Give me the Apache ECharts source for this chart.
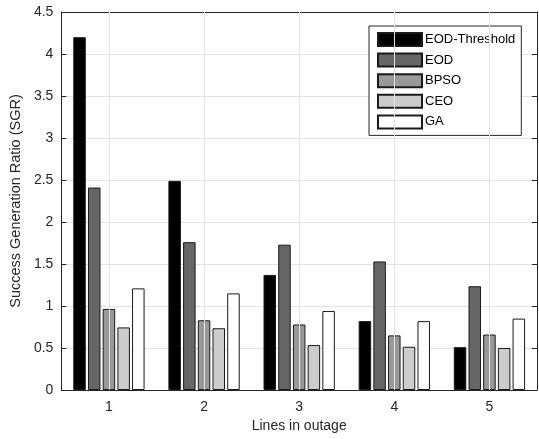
<!DOCTYPE html>
<html>
<head>
<meta charset="utf-8">
<script src="https://cdn.jsdelivr.net/npm/echarts@6/dist/echarts.min.js"></script>
<style>html,body{margin:0;padding:0;background:#fff}#c{width:539px;height:439px}</style>
</head>
<body>
<div id="c"></div>
<script>
var categories = ['1', '2', '3', '4', '5'];
var seriesNames = ['EOD-Threshold', 'EOD', 'BPSO', 'CEO', 'GA'];
var eodThreshold = [4.20, 2.49, 1.37, 0.82, 0.51];
var eod = [2.41, 1.76, 1.73, 1.53, 1.235];
var bpso = [0.965, 0.83, 0.78, 0.65, 0.66];
var ceo = [0.745, 0.735, 0.535, 0.515, 0.50];
var ga = [1.21, 1.15, 0.94, 0.82, 0.85];
var yTicks = [0, 0.5, 1, 1.5, 2, 2.5, 3, 3.5, 4, 4.5];

var colors = ['#000000', '#666666', '#999999', '#cccccc', '#ffffff'];
var allData = [eodThreshold, eod, bpso, ceo, ga];
var font = 'Arial, "Liberation Sans", sans-serif';
var axisCol = '#262626';

var series = allData.map(function (d, i) {
  return {
    name: seriesNames[i], type: 'bar', data: d, barWidth: 12.5, barGap: '17.6%', z: 3,
    itemStyle: { color: colors[i], borderColor: '#1a1a1a', borderWidth: 1 }
  };
});
series.push({
  type: 'line', data: [], z: 1, silent: true,
  markLine: {
    silent: true, symbol: 'none', label: { show: false },
    lineStyle: { color: '#e3e3e3', type: 'solid', width: 1 },
    data: categories.map(function (c) { return { xAxis: c }; })
  }
});

var chart = echarts.init(document.getElementById('c'));
chart.setOption({
  animation: false,
  backgroundColor: '#fff',
  textStyle: { fontFamily: font },
  grid: { left: 61, right: 2, top: 12, bottom: 49, containLabel: false },
  legend: {
    data: seriesNames, orient: 'vertical', left: 369, top: 26,
    itemWidth: 44, itemHeight: 13, itemGap: 5.6,
    padding: [6, 6, 6, 8],
    backgroundColor: '#fff', borderColor: '#262626', borderWidth: 1,
    textStyle: { fontFamily: font, fontSize: 13, color: '#000', padding: [0, 0, 0, -2] },
    icon: 'rect'
  },
  xAxis: [{
    type: 'category', data: categories, position: 'bottom',
    name: 'Lines in outage', nameLocation: 'middle', nameGap: 29,
    nameTextStyle: { fontFamily: font, fontSize: 14, color: axisCol },
    axisLine: { lineStyle: { color: axisCol, width: 1 } },
    axisTick: { show: true, inside: true, alignWithLabel: true, length: 5, lineStyle: { color: axisCol } },
    axisLabel: { fontFamily: font, fontSize: 14, color: axisCol, margin: 10 },
    splitLine: { show: false }
  }, {
    type: 'category', data: categories, position: 'top',
    axisLine: { show: true, onZero: false, lineStyle: { color: axisCol, width: 1 } },
    axisTick: { show: true, inside: true, alignWithLabel: true, length: 5, lineStyle: { color: axisCol } },
    axisLabel: { show: false }, splitLine: { show: false }
  }],
  yAxis: [{
    type: 'value', min: 0, max: 4.5, interval: 0.5,
    name: 'Success Generation Ratio (SGR)', nameLocation: 'middle', nameGap: 24,
    nameTextStyle: { fontFamily: font, fontSize: 14.5, color: axisCol },
    axisLine: { show: true, lineStyle: { color: axisCol, width: 1 } },
    axisTick: { show: true, inside: true, length: 5, lineStyle: { color: axisCol } },
    axisLabel: { fontFamily: font, fontSize: 14, color: axisCol, margin: 8,
      formatter: function (v) { return yTicks.indexOf(v) >= 0 ? String(v) : ''; } },
    splitLine: { show: true, lineStyle: { color: '#e3e3e3', width: 1 } }
  }, {
    type: 'value', min: 0, max: 4.5, interval: 0.5, position: 'right',
    axisLine: { show: true, lineStyle: { color: axisCol, width: 1 } },
    axisTick: { show: true, inside: true, length: 5, lineStyle: { color: axisCol } },
    axisLabel: { show: false }, splitLine: { show: false }
  }],
  series: series
});
</script>
</body>
</html>
